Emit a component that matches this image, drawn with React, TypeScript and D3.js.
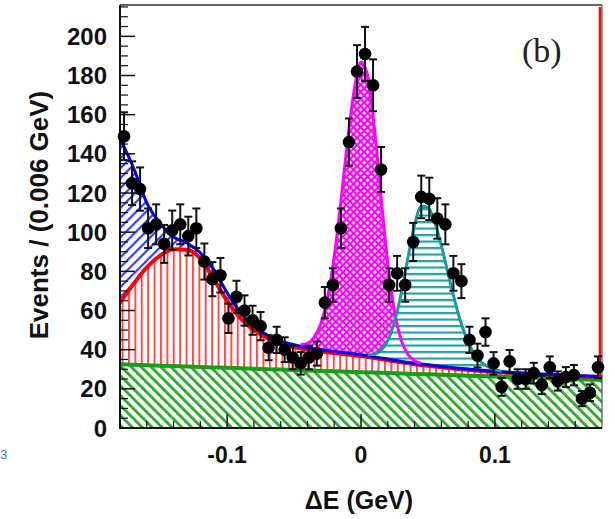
import React from "react";
import * as d3 from "d3";

const W = 615;
const H = 519;

// histogram counts, 60 bins of 0.006 GeV from -0.18 to 0.18
const counts = [
  149, 125, 122, 102, 104, 94, 101, 104, 98, 102,
  85, 76, 78, 56, 67, 60, 55, 52, 41, 45,
  40, 36, 33, 36, 38, 64, 73, 102, 146, 182,
  191, 175, 132, 73, 79, 73, 95, 118, 117, 107,
  104, 79, 75, 45, 37, 49, 33, 21, 34, 25,
  25, 28, 22, 31, 24, 26, 27, 15, 18, 31,
];
const binLo = -0.18;
const binW = 0.006;

// fit components
const curveX = [
  -0.18, -0.17, -0.16, -0.15, -0.14, -0.13, -0.12, -0.11, -0.1, -0.09,
  -0.08, -0.07, -0.06, -0.05, -0.04, -0.03, -0.02, -0.01, 0, 0.01,
  0.02, 0.03, 0.04, 0.05, 0.06, 0.07, 0.08, 0.09, 0.1, 0.11,
  0.12, 0.13, 0.14, 0.15, 0.16, 0.17, 0.18,
];
const bgX = [-0.18, 0.18];
const bgY = [32.5, 24.5];
const redY = [
  64, 73.5, 82, 88, 91.3, 91, 86.5, 76, 65, 56,
  50, 46, 43, 41.3, 40, 39, 38.2, 37.5, 36.7, 35.7,
  34.6, 33.5, 32.6, 31.8, 31, 30.3, 29.7, 29.1, 28.6, 28.2,
  27.8, 27.4, 27.1, 26.8, 26.5, 26.2, 26,
];
const blueY = [
  148, 133, 115, 104.5, 97.5, 94.5, 89.5, 81, 69, 59,
  52, 47.5, 44.3, 42.5, 41, 40, 39.1, 38.3, 37.4, 36.3,
  35.2, 34, 33.1, 32.3, 31.4, 30.7, 30.1, 29.5, 29, 28.5,
  28.1, 27.7, 27.4, 27.1, 26.8, 26.5, 26.3,
];
const peakMX = [
  -0.045, -0.04, -0.035, -0.03, -0.025, -0.02, -0.015, -0.01, -0.005, 0,
  0.005, 0.01, 0.015, 0.02, 0.025, 0.03, 0.035, 0.04, 0.045,
];
const peakMY = [
  0.8, 2.2, 5.8, 13.3, 26.9, 48.5, 77, 108.6, 135, 149.5,
  143, 117, 82, 49, 25, 11, 4, 1.3, 0.3,
];
const peakCX = [
  0.005, 0.01, 0.015, 0.02, 0.025, 0.03, 0.035, 0.04, 0.045, 0.05,
  0.055, 0.06, 0.065, 0.07, 0.075, 0.08, 0.085, 0.09, 0.095, 0.1, 0.105,
];
const peakCY = [
  0.4, 1.4, 3.9, 9.4, 19.5, 34.7, 53.2, 70.5, 80.5, 80.3,
  73.4, 61.8, 48, 34.4, 22.7, 13.8, 7.7, 4, 1.9, 0.8, 0.3,
];

const yMajor = [0, 20, 40, 60, 80, 100, 120, 140, 160, 180, 200];
const xMajor = [-0.1, 0, 0.1];
const xMajorLabels = ["-0.1", "0", "0.1"];

const L = 120, R = 602, T = 5, B = 428;

export default function App() {
  const x = d3.scaleLinear().domain([-0.18, 0.18]).range([L, R]);
  const y = d3.scaleLinear().domain([0, 216]).range([B, T]);

  const bgF = d3.scaleLinear().domain(bgX).range(bgY);
  const blueF = d3.scaleLinear().domain(curveX).range(blueY);

  const idx = curveX.map((_, i) => i);
  const cm = d3.curveMonotoneX;

  const greenArea = d3.area<number>().x((i) => x(curveX[i])).y0(y(0)).y1((i) => y(bgF(curveX[i])))(idx) || "";
  const redArea = d3.area<number>().curve(cm).x((i) => x(curveX[i])).y0((i) => y(bgF(curveX[i]))).y1((i) => y(redY[i]))(idx) || "";
  const blueArea = d3.area<number>().curve(cm).x((i) => x(curveX[i])).y0((i) => y(redY[i])).y1((i) => y(blueY[i]))(idx) || "";
  const greenLine = d3.line<number>().x((i) => x(curveX[i])).y((i) => y(bgF(curveX[i])))(idx) || "";
  const redLine = d3.line<number>().curve(cm).x((i) => x(curveX[i])).y((i) => y(redY[i]))(idx) || "";
  const blueLine = d3.line<number>().curve(cm).x((i) => x(curveX[i])).y((i) => y(blueY[i]))(idx) || "";

  const mIdx = peakMX.map((_, i) => i);
  const magArea = d3.area<number>().curve(cm).x((i) => x(peakMX[i])).y0((i) => y(blueF(peakMX[i]))).y1((i) => y(blueF(peakMX[i]) + peakMY[i]))(mIdx) || "";
  const magLine = d3.line<number>().curve(cm).x((i) => x(peakMX[i])).y((i) => y(blueF(peakMX[i]) + peakMY[i]))(mIdx) || "";
  const cIdx = peakCX.map((_, i) => i);
  const cyanArea = d3.area<number>().curve(cm).x((i) => x(peakCX[i])).y0((i) => y(blueF(peakCX[i]))).y1((i) => y(blueF(peakCX[i]) + peakCY[i]))(cIdx) || "";
  const cyanLine = d3.line<number>().curve(cm).x((i) => x(peakCX[i])).y((i) => y(blueF(peakCX[i]) + peakCY[i]))(cIdx) || "";

  const yMinor = d3.range(0, 216, 5).filter((v) => v % 20 !== 0);
  const xMinor = d3.range(-8, 9).map((k) => k * 0.02).filter((v) => Math.abs(Math.round(v * 100)) % 10 !== 0);

  const font = "'Liberation Sans', Arial, Helvetica, sans-serif";

  return (
    <svg width={W} height={H} style={{ position: "absolute", left: 0, top: 0, background: "white" }}>
      <defs>
        <clipPath id="plot">
          <rect x={L} y={T} width={R - L} height={B - T} />
        </clipPath>
        <pattern id="pg" width="7" height="7" patternUnits="userSpaceOnUse" patternTransform="rotate(-45)">
          <rect width="7" height="7" fill="white" />
          <rect x="0" width="2.8" height="7" fill="#27aa27" />
        </pattern>
        <pattern id="pr" width="6.4" height="10" patternUnits="userSpaceOnUse">
          <rect width="6.4" height="10" fill="white" />
          <rect x="0" width="2" height="10" fill="#ff4a4a" />
        </pattern>
        <pattern id="pb" width="7" height="7" patternUnits="userSpaceOnUse" patternTransform="rotate(45)">
          <rect width="7" height="7" fill="white" />
          <rect x="0" width="2.2" height="7" fill="#3c3cff" />
        </pattern>
        <pattern id="pc" width="10" height="6.5" patternUnits="userSpaceOnUse">
          <rect width="10" height="6.5" fill="white" />
          <rect y="0" width="10" height="2.2" fill="#22a3a3" />
        </pattern>
        <pattern id="pm" width="5" height="5" patternUnits="userSpaceOnUse" patternTransform="rotate(45)">
          <rect width="5" height="5" fill="#ff00ff" />
          <rect x="1.1" y="1.1" width="2.8" height="2.8" fill="white" />
        </pattern>
      </defs>

      <g clipPath="url(#plot)">
        <path d={greenArea} fill="url(#pg)" />
        <path d={redArea} fill="url(#pr)" />
        <path d={blueArea} fill="url(#pb)" />
        <path d={magArea} fill="url(#pm)" />
        <path d={cyanArea} fill="url(#pc)" />
        <path d={greenLine} fill="none" stroke="#14a014" strokeWidth={4} />
        <path d={redLine} fill="none" stroke="#ff0000" strokeWidth={4} />
        <path d={blueLine} fill="none" stroke="#0000ff" strokeWidth={3} />
        <path d={magLine} fill="none" stroke="#ff00ff" strokeWidth={3} />
        <path d={cyanLine} fill="none" stroke="#159c9c" strokeWidth={3} />
      </g>

      {/* red closing edge at right */}
      <line x1={R - 2} x2={R - 2} y1={T + 2} y2={y(redY[redY.length - 1])} stroke="#ff0000" strokeWidth={2.5} />

      {/* frame */}
      <line x1={L} x2={R} y1={T} y2={T} stroke="#333" strokeWidth={1.5} />
      <line x1={R} x2={R} y1={T} y2={B} stroke="#555" strokeWidth={1.2} />
      <line x1={L} x2={L} y1={T} y2={B + 1} stroke="#111" strokeWidth={2} />
      <line x1={L - 1} x2={R} y1={B} y2={B} stroke="#111" strokeWidth={2} />

      {/* y ticks */}
      {yMajor.map((v) => (
        <line key={"ym" + v} x1={L} x2={L + 15} y1={y(v)} y2={y(v)} stroke="#111" strokeWidth={1.5} />
      ))}
      {yMinor.map((v) => (
        <line key={"yn" + v} x1={L} x2={L + 8} y1={y(v)} y2={y(v)} stroke="#111" strokeWidth={1.2} />
      ))}
      {/* x ticks */}
      {xMajor.map((v) => (
        <line key={"xm" + v} x1={x(v)} x2={x(v)} y1={B} y2={B - 14} stroke="#111" strokeWidth={1.5} />
      ))}
      {xMinor.map((v) => (
        <line key={"xn" + v} x1={x(v)} x2={x(v)} y1={B} y2={B - 7} stroke="#111" strokeWidth={1.2} />
      ))}

      {/* tick labels */}
      {yMajor.map((v) => (
        <text key={"yl" + v} x={107} y={y(v) + 8.5} textAnchor="end" fontFamily={font} fontWeight="bold" fontSize={24} fill="#111">
          {v}
        </text>
      ))}
      {xMajor.map((v, i) => (
        <text key={"xl" + v} x={x(v)} y={463} textAnchor="middle" fontFamily={font} fontWeight="bold" fontSize={23} fill="#111">
          {xMajorLabels[i]}
        </text>
      ))}

      <text x={359} y={509} textAnchor="middle" fontFamily={font} fontWeight="bold" fontSize={25} fill="#111">
        ΔE (GeV)
      </text>
      <text transform="translate(48,215) rotate(-90)" textAnchor="middle" fontFamily={font} fontWeight="bold" fontSize={26} fill="#111">
        Events / (0.006 GeV)
      </text>

      <text x={522} y={62} fontFamily="'Liberation Serif', 'Times New Roman', serif" fontSize={34} fill="#222">
        (b)
      </text>

      <text x={0} y={459} fontFamily={font} fontSize={13} fill="#3a7bd5">
        3
      </text>

      {/* data points */}
      {counts.map((n, i) => {
        const cx = x(binLo + binW * (i + 0.5));
        const e = Math.sqrt(n);
        const yt = y(n + e);
        const yb = y(Math.max(0, n - e));
        return (
          <g key={"p" + i}>
            <line x1={cx} x2={cx} y1={yt} y2={yb} stroke="#111" strokeWidth={2} />
            <line x1={cx - 4} x2={cx + 4} y1={yt} y2={yt} stroke="#111" strokeWidth={2} />
            <line x1={cx - 4} x2={cx + 4} y1={yb} y2={yb} stroke="#111" strokeWidth={2} />
            <circle cx={cx} cy={y(n)} r={6.3} fill="#000" />
          </g>
        );
      })}
    </svg>
  );
}
